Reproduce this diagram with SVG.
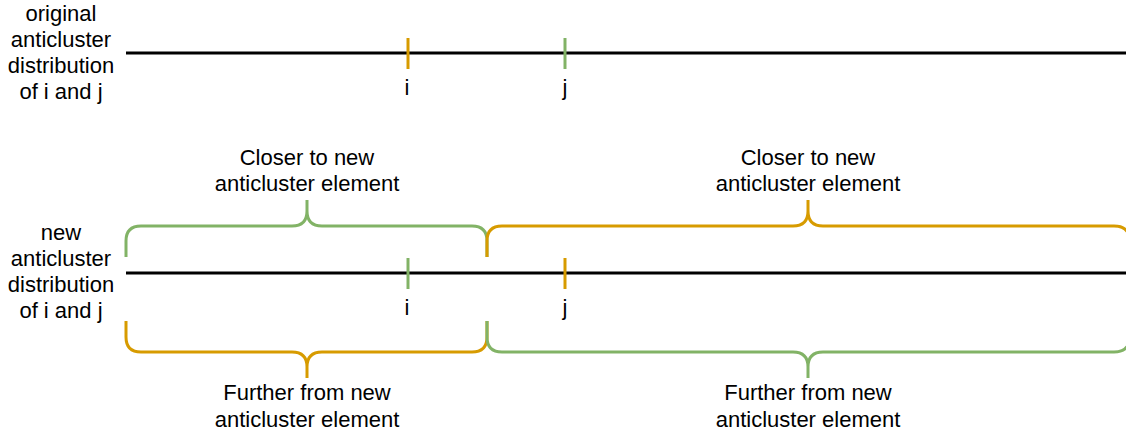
<svg xmlns="http://www.w3.org/2000/svg" width="1126" height="437" viewBox="0 0 1126 437">
  <style>
    text { font-family: "Liberation Sans", Arial, Helvetica, sans-serif; font-size: 22px; fill: #000; text-anchor: middle; }
    .axis { stroke: #000; stroke-width: 3; fill: none; }
    .tick { stroke-width: 3; fill: none; }
    .brace { stroke-width: 3; fill: none; stroke-linejoin: round; }
    .green { stroke: #82b366; }
    .orange { stroke: #d79b00; }
  </style>
  <rect width="1126" height="437" fill="#fff"/>

  <!-- original distribution -->
  <g id="label-original">
    <text x="61" y="21">original</text>
    <text x="61" y="47">anticluster</text>
    <text x="61" y="73">distribution</text>
    <text x="61" y="99">of i and j</text>
  </g>
  <g id="axis-original">
    <line class="axis" x1="126" y1="53" x2="1126" y2="53"/>
  </g>
  <g id="orig-i">
    <line class="tick orange" x1="408" y1="38" x2="408" y2="69"/>
    <text x="407" y="95">i</text>
  </g>
  <g id="orig-j">
    <line class="tick green" x1="565" y1="38" x2="565" y2="69"/>
    <text x="565" y="95">j</text>
  </g>

  <!-- new distribution -->
  <g id="label-new">
    <text x="61" y="240">new</text>
    <text x="61" y="266">anticluster</text>
    <text x="61" y="292">distribution</text>
    <text x="61" y="318">of i and j</text>
  </g>
  <g id="axis-new">
    <line class="axis" x1="126" y1="273" x2="1126" y2="273"/>
  </g>
  <g id="new-i">
    <line class="tick green" x1="408" y1="258" x2="408" y2="289"/>
    <text x="407" y="315">i</text>
  </g>
  <g id="new-j">
    <line class="tick orange" x1="565" y1="258" x2="565" y2="289"/>
    <text x="565" y="315">j</text>
  </g>

  <!-- braces above the new axis -->
  <g id="closer-i">
    <path class="brace green" d="M126,257 V241 Q126,226 141,226 H292 Q307,226 307,211 V200 M307,211 Q307,226 322,226 H472 Q487,226 487,241 V257"/>
    <text x="307" y="165">Closer to new</text>
    <text x="307" y="191">anticluster element</text>
  </g>
  <g id="closer-j">
    <path class="brace orange" d="M487,257 V241 Q487,226 502,226 H793 Q808,226 808,211 V200 M808,211 Q808,226 823,226 H1114 Q1130,226 1130,242 V257"/>
    <text x="808" y="165">Closer to new</text>
    <text x="808" y="191">anticluster element</text>
  </g>

  <!-- braces below the new axis -->
  <g id="further-i">
    <path class="brace orange" d="M126,321 V337 Q126,352 141,352 H292 Q307,352 307,367 V378 M307,367 Q307,352 322,352 H472 Q487,352 487,337 V321"/>
    <text x="307" y="400">Further from new</text>
    <text x="307" y="427">anticluster element</text>
  </g>
  <g id="further-j">
    <path class="brace green" d="M487,321 V337 Q487,352 502,352 H793 Q808,352 808,367 V378 M808,367 Q808,352 823,352 H1114 Q1130,352 1130,336 V321"/>
    <text x="808" y="400">Further from new</text>
    <text x="808" y="427">anticluster element</text>
  </g>

  <g id="connectors"/>
</svg>
